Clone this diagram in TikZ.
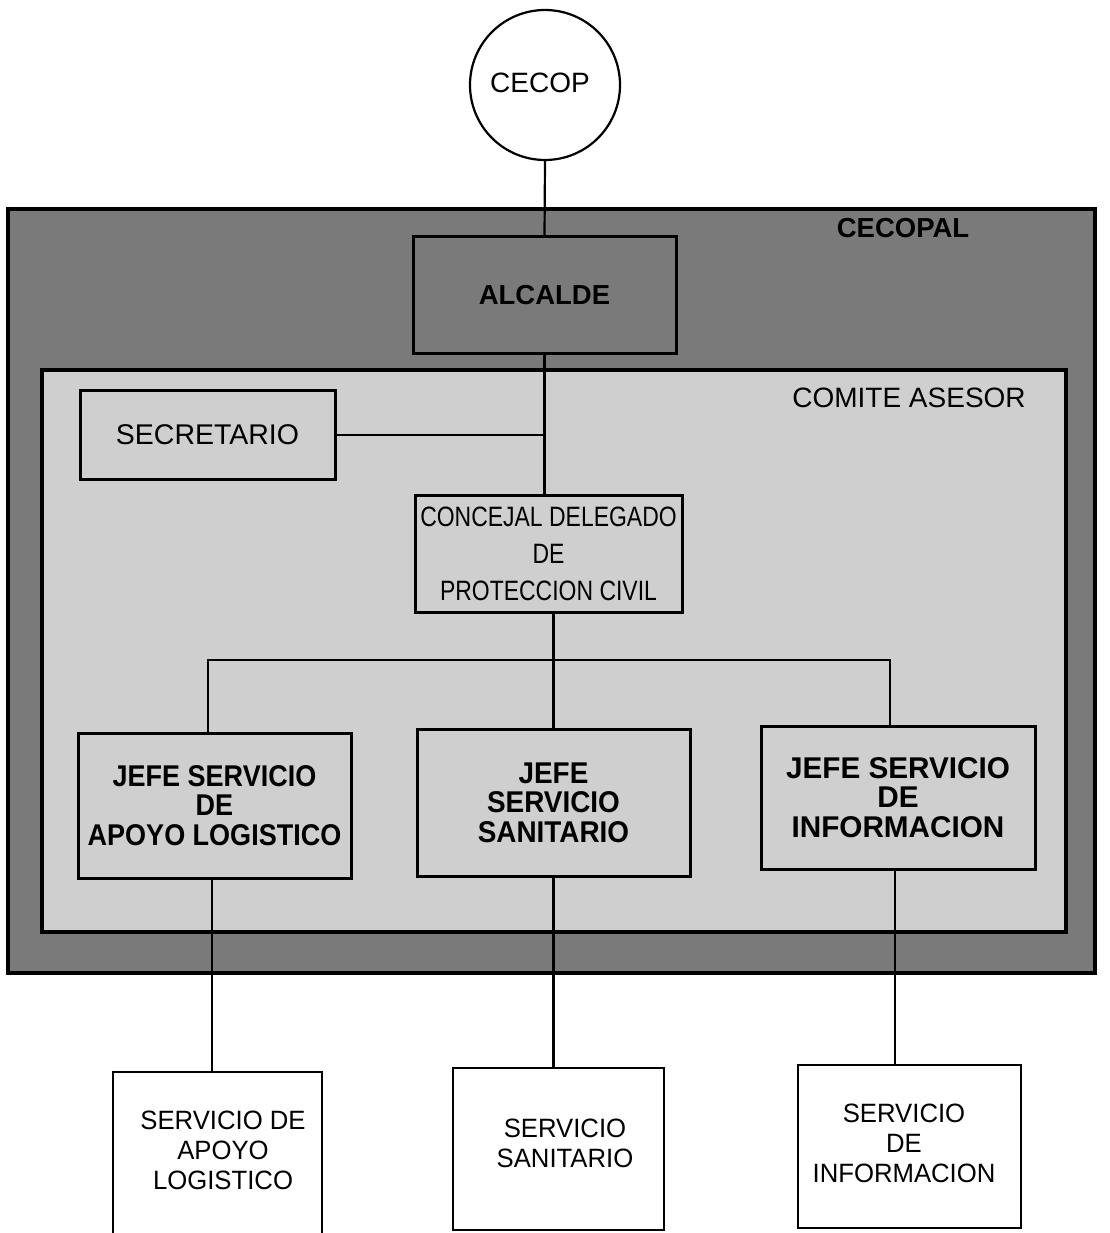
\documentclass[tikz,border=0pt]{standalone}
\usepackage{fontspec}
\setmainfont{Liberation Sans}
\newfontfamily\narrowfont[FakeStretch=0.82]{Liberation Sans}
\newfontfamily\btmfont[FakeStretch=0.97]{Liberation Sans}
\newfontfamily\jefeA[FakeStretch=0.90]{Liberation Sans Bold}
\newfontfamily\jefeB[FakeStretch=0.93]{Liberation Sans Bold}
\newfontfamily\jefeC[FakeStretch=0.99]{Liberation Sans Bold}
\definecolor{darkfill}{gray}{0.48}
\definecolor{lightfill}{gray}{0.81}
\tikzset{
  box/.style={draw, line width=3pt, rectangle, inner sep=0pt, align=center},
  outbox/.style={draw, line width=2.2pt, rectangle, inner sep=0pt, fill=white},
  conn/.style={line width=2.2pt},
  txt/.style={font=\fontsize{28}{30}\selectfont, align=center, inner sep=0pt},
  btxt/.style={font=\btmfont\fontsize{26.5}{30}\selectfont, align=center, inner sep=0pt},
  emb/.style={font=\bfseries\fontsize{27.5}{30}\selectfont, inner sep=0pt},
}
\begin{document}
\begin{tikzpicture}[x=1pt,y=-1pt]
\useasboundingbox (0,0) rectangle (1109,1233);
\fill[white] (0,0) rectangle (1109,1233);

% containers
\node (cecopal) [box, line width=3.5pt, fill=darkfill, minimum width=1087pt, minimum height=764pt] at (551.5,591) {};
\node (comite) [box, line width=3.5pt, fill=lightfill, minimum width=1024pt, minimum height=562pt] at (554,651) {};
\node (cecopaltxt) [emb] at (903,228) {CECOPAL};
\node (comitelbl) [txt] at (909,398) {COMITE ASESOR};

% top
\node (cecop) [draw, circle, line width=2.2pt, fill=white, minimum size=150pt, inner sep=0pt] at (545,85) {};
\node (cecoptxt) [txt] at (540,83) {CECOP};
\node (alcalde) [box, fill=darkfill, minimum width=263pt, minimum height=116pt, emb] at (544.5,295) {ALCALDE};

% comite members
\node (secretario) [box, minimum width=255pt, minimum height=89pt, txt, font=\fontsize{28.5}{30}\selectfont] at (207.5,435) {SECRETARIO};
\node (concejal) [box, minimum width=267pt, minimum height=117pt, font=\narrowfont\fontsize{28}{37}\selectfont] at (548.5,553.5) {CONCEJAL DELEGADO\\DE\\PROTECCION CIVIL};

\node (jefe1) [box, minimum width=273pt, minimum height=145pt, font=\jefeA\fontsize{30}{29.5}\selectfont] at (214.5,805.5) {JEFE SERVICIO\\DE\\APOYO LOGISTICO};
\node (jefe2) [box, minimum width=273pt, minimum height=147pt, font=\jefeB\fontsize{30}{29.5}\selectfont] at (553.5,802.5) {JEFE\\SERVICIO\\SANITARIO};
\node (jefe3) [box, minimum width=274pt, minimum height=143pt, font=\jefeC\fontsize{30}{29.5}\selectfont] at (898,797.5) {JEFE SERVICIO\\DE\\INFORMACION};

% bottom services
\node (srv1) [outbox, minimum width=209pt, minimum height=190pt] at (217.5,1167) {};
\node (srv1txt) [btxt] at (223,1150) {SERVICIO DE\\APOYO\\LOGISTICO};
\node (srv2) [outbox, minimum width=211pt, minimum height=162pt] at (558.5,1149) {};
\node (srv2txt) [btxt] at (565,1143) {SERVICIO\\SANITARIO};
\node (srv3) [outbox, minimum width=223pt, minimum height=163pt] at (909.5,1146.5) {};
\node (srv3txt) [btxt] at (904,1143) {SERVICIO\\DE\\INFORMACION};

% connectors
\coordinate (busL) at (208,660);
\coordinate (busR) at (890,660);
\coordinate (dropL) at (212,0);
\coordinate (dropR) at (895,0);
\draw[conn] (cecop.south) -- (alcalde.north);
\draw[conn] (alcalde.south) -- (alcalde.south |- concejal.north);
\draw[conn] (secretario.east) -- (secretario.east -| alcalde.south);
\draw[conn] (jefe2.north |- concejal.south) -- (jefe2.north);
\draw[conn] (busL |- jefe1.north) -- (busL) -- (busR) -- (busR |- jefe3.north);
\draw[conn] (dropL |- jefe1.south) -- (dropL |- srv1.north);
\draw[conn] (jefe2.south) -- (jefe2.south |- srv2.north);
\draw[conn] (dropR |- jefe3.south) -- (dropR |- srv3.north);
\end{tikzpicture}
\end{document}
